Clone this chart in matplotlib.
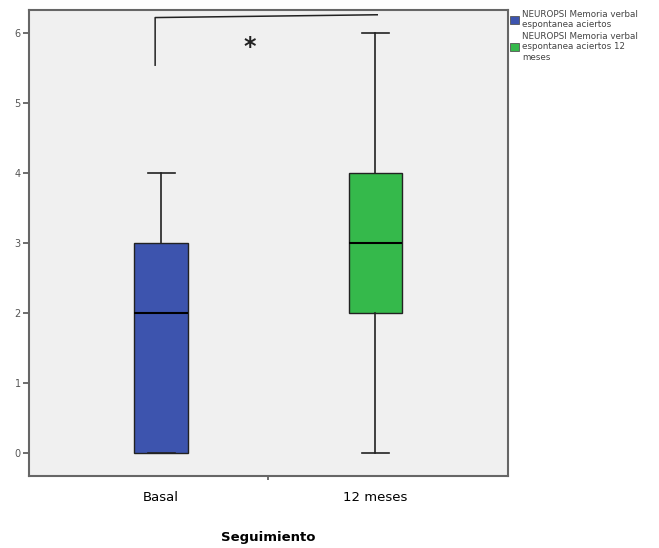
import matplotlib
matplotlib.use("Agg")
import matplotlib.pyplot as plt
from matplotlib.patches import Patch

# Five-number summaries per follow-up time
groups = ["Basal", "12 meses"]
mins = [0, 0]
q1s = [0, 2]
medians = [2, 3]
q3s = [3, 4]
maxs = [4, 6]
colors = ["#3d54ae", "#35b94b"]
legend_labels = [
    "NEUROPSI Memoria verbal\nespontanea aciertos",
    "NEUROPSI Memoria verbal\nespontanea aciertos 12\nmeses",
]

fig = plt.figure(figsize=(6.59, 5.48), dpi=100)
ax = fig.add_axes([0.044, 0.131, 0.727, 0.851])
ax.set_facecolor("#f0f0f0")

stats = []
for g, lo, a, m, b, hi in zip(groups, mins, q1s, medians, q3s, maxs):
    stats.append({"label": g, "whislo": lo, "q1": a, "med": m, "q3": b,
                  "whishi": hi, "fliers": []})

bp = ax.bxp(stats, positions=[1, 2], widths=0.25, patch_artist=True,
            showfliers=False,
            medianprops=dict(color="black", linewidth=1.5),
            whiskerprops=dict(color="#222222", linewidth=1.2),
            capprops=dict(color="#222222", linewidth=1.2),
            boxprops=dict(edgecolor="#222222", linewidth=1.0))
for patch, c in zip(bp["boxes"], colors):
    patch.set_facecolor(c)

ax.set_xlim(0.383, 2.62)
ax.set_ylim(-0.33, 6.33)

# significance bracket
ax.plot([0.972, 0.972, 2.009], [5.54, 6.22, 6.26], color="#222222", linewidth=1.1)
ax.text(1.416, 5.80, "*", ha="center", va="center", fontsize=17,
        fontweight="bold", color="#222222")

ax.set_yticks(range(7))
ax.tick_params(axis="y", labelsize=7, labelcolor="#555555", length=4,
               color="#555555", width=1.2, pad=2)
ax.set_xticks([1, 2])
ax.set_xticklabels(groups)
ax.tick_params(axis="x", which="major", length=0, labelsize=9.5, pad=11)
ax.set_xticks([1.5], minor=True)
ax.tick_params(axis="x", which="minor", length=3, color="#555555", width=1.2)
ax.set_xlabel("Seguimiento", fontsize=9.5, fontweight="bold", labelpad=19)

for s in ax.spines.values():
    s.set_color("#666666")
    s.set_linewidth(1.5)

handles = [Patch(facecolor=c, edgecolor="#555555", linewidth=0.6) for c in colors]
fig.legend(handles, legend_labels, loc="upper left", bbox_to_anchor=(0.772, 0.985),
           frameon=False, fontsize=6.3, handlelength=1.0, handleheight=1.0,
           handletextpad=0.3, labelspacing=0.3, labelcolor="#444444",
           borderaxespad=0, borderpad=0.2)

fig.savefig("out.png", dpi=100)
